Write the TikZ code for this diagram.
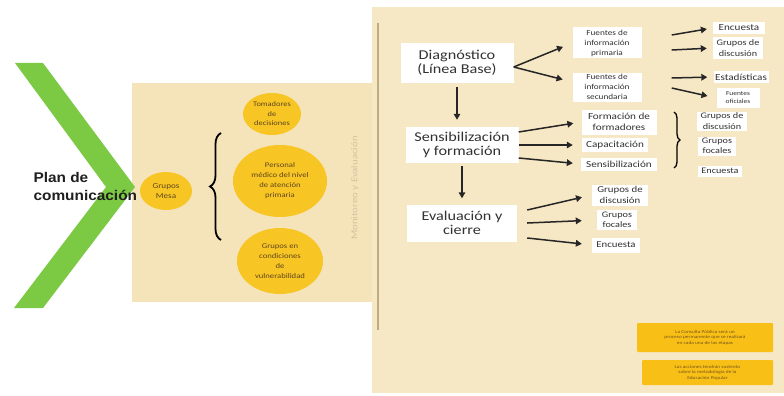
\documentclass[tikz,border=0pt]{standalone}
\usepackage{fontspec}
\setmainfont[FakeStretch=1.2]{Carlito}
\newfontfamily\headfont[FakeStretch=1.1]{Liberation Sans}
\usetikzlibrary{arrows.meta,shapes.geometric,decorations.pathreplacing}

\definecolor{panelleft}{RGB}{245,228,186}
\definecolor{panelright}{RGB}{247,232,197}
\definecolor{panelrule}{RGB}{190,172,128}
\definecolor{leafgreen}{RGB}{124,201,68}
\definecolor{gold}{RGB}{247,197,36}
\definecolor{amber}{RGB}{248,192,22}
\definecolor{inktext}{RGB}{50,50,50}
\definecolor{browntext}{RGB}{95,70,30}
\definecolor{notetext}{RGB}{120,85,25}
\definecolor{fainttext}{RGB}{210,196,160}

\newcommand\txtsize[2]{\fontsize{#1}{#2}\selectfont}

\begin{document}
\begin{tikzpicture}[x=1pt,y=-1pt,
  stage/.style={fill=white,text=inktext,align=center,inner sep=0pt,font=\txtsize{13.5}{14}},
  item/.style={fill=white,text=inktext,align=center,inner sep=0pt},
  blob/.style={ellipse,fill=gold,text=browntext,align=center,inner sep=0pt},
  note/.style={fill=amber,text=notetext,align=center,inner sep=0pt,rounded corners=1pt,font=\txtsize{4.5}{5.6}},
  flow/.style={draw=black!85,line width=1.5pt,-{Triangle[length=6pt,width=6.5pt]}},
  curly/.style={decorate,draw=black,line width=#1},
]
\useasboundingbox (0,0) rectangle (784,396);
\fill[white] (0,0) rectangle (784,396);

% background panels
\fill[panelleft] (132,83) rectangle (372,302);
\fill[panelright] (372,7) rectangle (784,393);
\coordinate (ruletop) at (378,23);
\coordinate (rulebot) at (378,330);
\draw[panelrule,line width=1.1pt] (ruletop) -- (rulebot);
\node[rotate=90,text=fainttext,font=\txtsize{9}{10}] (monitor) at (355,188) {Monitoreo y Evaluación};

% chevron
\fill[leafgreen] (15,63) -- (43,63) -- (135,187) -- (43,308) -- (14,308) -- (106,187) -- cycle;
\node[anchor=west,align=left,text=black!88,font=\headfont\bfseries\txtsize{14}{18}] (plan) at (30,186) {Plan de\\comunicación};

% audience groups
\node[blob,minimum width=52,minimum height=38,font=\txtsize{7.6}{10}] (mesa) at (166,191) {Grupos\\Mesa};
\node[blob,minimum width=58,minimum height=42,font=\txtsize{7}{9.5}] (tomad) at (272,114) {Tomadores\\de\\decisiones};
\node[blob,minimum width=94,minimum height=72,font=\txtsize{7.2}{10}] (person) at (280,181) {Personal\\médico del nivel\\de atención\\primaria};
\node[blob,minimum width=86,minimum height=66,font=\txtsize{7.2}{10}] (vulner) at (280,261) {Grupos en\\condiciones\\de\\vulnerabilidad};
\coordinate (bracelow) at (221,240);
\coordinate (bracehigh) at (221,133);
\draw[curly=1.8pt,decoration={brace,amplitude=11pt}] (bracelow) -- (bracehigh);

% stages
\node[stage,minimum width=113,minimum height=40] (diag) at (457,63) {Diagnóstico\\(Línea Base)};
\node[stage,minimum width=113,minimum height=36] (sens) at (462,145) {Sensibilización\\y formación};
\node[stage,minimum width=110,minimum height=37] (evalu) at (462,223) {Evaluación y\\cierre};
\draw[flow,shorten <=4pt,shorten >=7pt] (diag.south) -- (diag.south |- sens.north);
\draw[flow,shorten <=3pt,shorten >=6pt] (sens.south) -- (sens.south |- evalu.north);

% diagnosis sources
\node[item,minimum width=69,minimum height=31,font=\txtsize{7.7}{10}] (fprim) at (607,43) {Fuentes de\\información\\primaria};
\node[item,minimum width=69,minimum height=29,font=\txtsize{7.7}{10}] (fsec) at (607,87) {Fuentes de\\información\\secundaria};
\draw[flow,shorten >=10pt] ([yshift=-4pt]diag.east) -- (fprim.west);
\draw[flow,shorten >=10pt] ([yshift=-4pt]diag.east) -- ([yshift=5pt]fsec.west);

\node[item,minimum width=52,minimum height=12,font=\txtsize{9.3}{11}] (enc1) at (739,28) {Encuesta};
\node[item,minimum width=50,minimum height=22,font=\txtsize{8.5}{11}] (grp1) at (738,48) {Grupos de\\discusión};
\node[item,minimum width=55,minimum height=12,font=\txtsize{9.3}{11}] (estad) at (741,77) {Estadísticas};
\node[item,minimum width=43,minimum height=20,font=\txtsize{6.2}{8}] (ofic) at (738,98) {Fuentes\\oficiales};
\draw[flow,shorten >=6pt] ([xshift=30pt,yshift=8pt]fprim.east) -- (enc1.west);
\draw[flow,shorten >=6pt] ([xshift=30pt,yshift=-7pt]fprim.east) -- (grp1.west);
\draw[flow,shorten >=6pt] ([xshift=30pt,yshift=9pt]fsec.east) -- (estad.west);
\draw[flow,shorten >=9pt] ([xshift=30pt,yshift=-1pt]fsec.east) -- (ofic.west);

% training activities
\node[item,minimum width=75,minimum height=25,font=\txtsize{9.3}{11.5}] (fform) at (619,122) {Formación de\\formadores};
\node[item,minimum width=66,minimum height=14,font=\txtsize{9.3}{11}] (capac) at (615,145) {Capacitación};
\node[item,minimum width=76,minimum height=13,font=\txtsize{9.3}{11}] (sensi) at (619,164) {Sensibilización};
\draw[flow,shorten >=8pt] ([yshift=13pt]sens.east) -- (fform.west);
\draw[flow,shorten >=9pt] (sens.east) -- (capac.west);
\draw[flow,shorten >=8pt] ([yshift=-13pt]sens.east) -- (sensi.west);

\coordinate (rbtop) at (674,112);
\coordinate (rbbot) at (674,168);
\draw[curly=1.3pt,decoration={brace,amplitude=6pt}] (rbtop) -- (rbbot);
\node[item,minimum width=50,minimum height=19,font=\txtsize{8.5}{10.5}] (grp2) at (722,121) {Grupos de\\discusión};
\node[item,minimum width=38,minimum height=19,font=\txtsize{8.5}{10.5}] (foc2) at (717,146) {Grupos\\focales};
\node[item,minimum width=44,minimum height=11,font=\txtsize{8.5}{10}] (enc2) at (720,171) {Encuesta};

% evaluation tools
\node[item,minimum width=56,minimum height=21,font=\txtsize{9}{11}] (grp3) at (620,195) {Grupos de\\discusión};
\node[item,minimum width=40,minimum height=20,font=\txtsize{8.5}{10}] (foc3) at (617,220) {Grupos\\focales};
\node[item,minimum width=48,minimum height=15,font=\txtsize{9}{11}] (enc3) at (616,245) {Encuesta};
\draw[flow,shorten >=10pt] ([xshift=10pt,yshift=13pt]evalu.east) -- (grp3.west);
\draw[flow,shorten >=15pt] ([xshift=10pt]evalu.east) -- (foc3.west);
\draw[flow,shorten >=10pt] ([xshift=10pt,yshift=-15pt]evalu.east) -- (enc3.west);

% notes
\node[note,minimum width=136,minimum height=29] (note1) at (705,337.5) {La Consulta Pública será un\\proceso permanente que se realizará\\en cada una de las etapas};
\node[note,minimum width=131,minimum height=25] (note2) at (707.5,372.5) {Las acciones tendrán sustento\\sobre la metodología de la\\Educación Popular};
\end{tikzpicture}
\end{document}
